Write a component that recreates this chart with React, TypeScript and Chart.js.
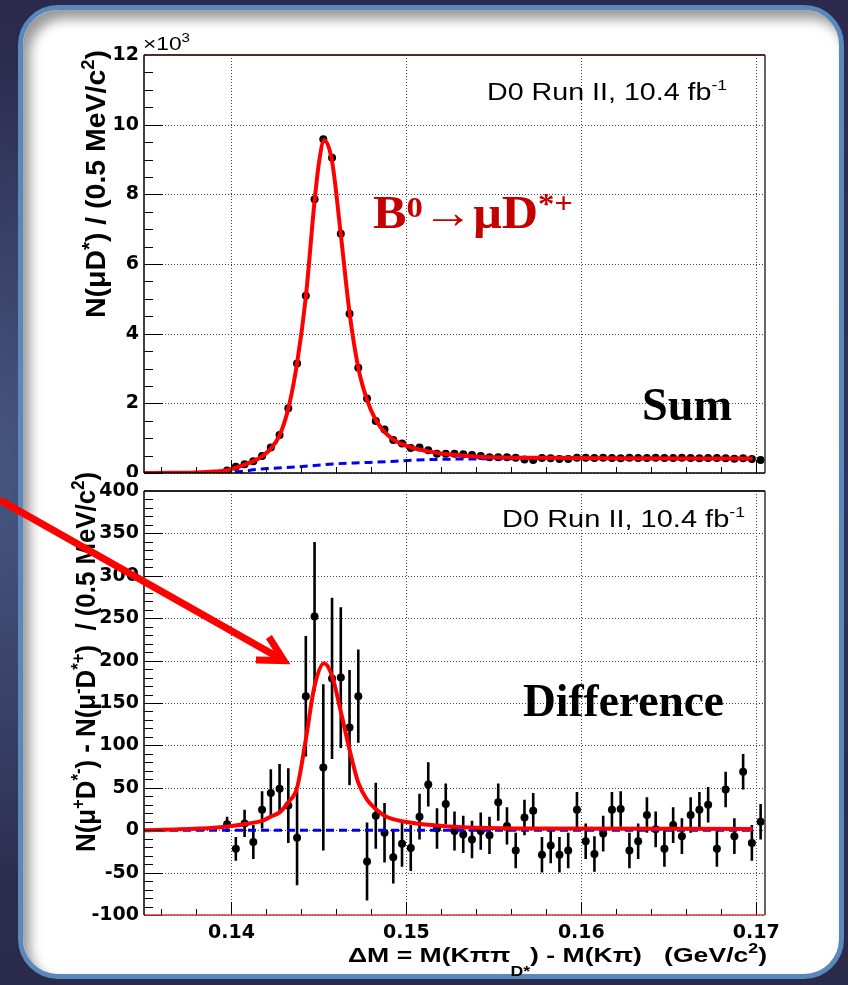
import { useEffect, useRef } from "react";
import { Chart, registerables } from "chart.js";

Chart.register(...registerables);

// ΔM bin centres in GeV/c², 0.5 MeV/c² bins
const BIN_CENTERS = [
  0.13975, 0.14025, 0.14075, 0.14125, 0.14175, 0.14225, 0.14275, 0.14325, 0.14375, 0.14425,
  0.14475, 0.14525, 0.14575, 0.14625, 0.14675, 0.14725, 0.14775, 0.14825, 0.14875, 0.14925,
  0.14975, 0.15025, 0.15075, 0.15125, 0.15175, 0.15225, 0.15275, 0.15325, 0.15375, 0.15425,
  0.15475, 0.15525, 0.15575, 0.15625, 0.15675, 0.15725, 0.15775, 0.15825, 0.15875, 0.15925,
  0.15975, 0.16025, 0.16075, 0.16125, 0.16175, 0.16225, 0.16275, 0.16325, 0.16375, 0.16425,
  0.16475, 0.16525, 0.16575, 0.16625, 0.16675, 0.16725, 0.16775, 0.16825, 0.16875, 0.16925,
  0.16975, 0.17025,
];

// Sum: N(μD*) per bin
const SUM_COUNTS = [
  70, 180, 250, 340, 490, 730, 1090, 1860, 3140, 5090,
  7860, 9580, 9050, 6870, 4570, 3020, 2140, 1490, 1250, 950,
  850, 720, 735, 650, 555, 550, 550, 540, 520, 490,
  450, 450, 450, 440, 390, 370, 430, 420, 400, 400,
  440, 440, 430, 440, 430, 420, 440, 430, 430, 440,
  430, 430, 440, 430, 420, 430, 430, 420, 410, 420,
  400, 370,
];

// Difference: N(μ+D*-) - N(μ-D*+) per bin, with its uncertainty
const DIFF_COUNTS = [
  7, -22, 8, -14, 24, 44, 49, 29, -9, 158,
  252, 74, 179, 180, 121, 158, -37, 17, -3, -32,
  -16, -21, 16, 54, 2, 31, -1, -5, -11, -1,
  -6, 33, 5, -24, 15, 23, -29, -18, -29, -24,
  24, -13, -28, -4, 24, 25, -24, -13, 18, 1,
  -22, 6, -7, 18, 24, 30, -22, 48, -7, 69,
  -15, 10,
];
const DIFF_ERRORS = [
  9, 14, 16, 20, 22, 28, 29, 44, 56, 71,
  88, 98, 95, 83, 68, 55, 46, 39, 35, 31,
  27, 27, 27, 26, 24, 24, 23, 22, 22, 22,
  22, 22, 22, 21, 21, 21, 21, 21, 21, 21,
  21, 21, 21, 21, 21, 21, 21, 21, 21, 21,
  21, 21, 21, 21, 21, 21, 21, 21, 21, 21,
  21, 21,
];

// Fitted signal + background (Sum)
const SUM_FIT_X = [
  0.135, 0.1365, 0.138, 0.139, 0.13975, 0.14025, 0.14075, 0.14125, 0.14175, 0.14225,
  0.14275, 0.14325, 0.14375, 0.14425, 0.14475, 0.145, 0.1453, 0.14575, 0.14625, 0.14675,
  0.14725, 0.14775, 0.14825, 0.14875, 0.14925, 0.14975, 0.15025, 0.15075, 0.1515, 0.1525,
  0.1535, 0.155, 0.158, 0.162, 0.1698,
];
const SUM_FIT_Y = [
  0, 5, 15, 40, 80, 150, 240, 340, 480, 700,
  1080, 1850, 3150, 5050, 7800, 8900, 9550, 8950, 6850, 4600,
  3020, 2100, 1520, 1180, 960, 830, 740, 670, 600, 530,
  490, 450, 435, 425, 415,
];
// Background component (Sum)
const SUM_BKG_X = [0.135, 0.1396, 0.1405, 0.1416, 0.1439, 0.1458, 0.1477, 0.1494, 0.1504, 0.1523, 0.156, 0.16, 0.1698];
const SUM_BKG_Y = [0, 0, 40, 110, 180, 260, 300, 340, 370, 395, 410, 412, 405];

// Fitted signal (Difference)
const DIFF_FIT_X = [
  0.135, 0.137, 0.139, 0.14, 0.141, 0.14175, 0.14225, 0.14275, 0.14325, 0.14375,
  0.14425, 0.14475, 0.1453, 0.14575, 0.14625, 0.14675, 0.14725, 0.14775, 0.14825, 0.14875,
  0.14925, 0.14975, 0.1507, 0.1524, 0.154, 0.157, 0.1698,
];
const DIFF_FIT_Y = [
  0, 1, 3, 5, 8, 11, 16, 21, 33, 50,
  107, 170, 197, 182, 140, 95, 56, 36, 25, 17,
  13, 10.5, 7.5, 4.5, 3, 2, 1.5,
];
const DIFF_BKG_X = [0.135, 0.1698];
const DIFF_BKG_Y = [0, 0];

const X_MIN = 0.135;
const X_MAX = 0.1705;
const X_TICKS = [0.14, 0.15, 0.16, 0.17];
const X_TICK_LABELS = ["0.14", "0.15", "0.16", "0.17"];
const SUM_Y_TICKS = [0, 2000, 4000, 6000, 8000, 10000, 12000];
const SUM_Y_TICK_LABELS = ["0", "2", "4", "6", "8", "10", "12"];
const DIFF_Y_TICKS = [-100, -50, 0, 50, 100, 150, 200, 250, 300, 350, 400];
const DIFF_Y_TICK_LABELS = ["-100", "-50", "0", "50", "100", "150", "200", "250", "300", "350", "400"];

// arrow pointing at the difference peak (tip in data coordinates)
const ARROW_TIP = { x: 0.143, y: 200 };

const TICK_FONT = { family: "'DejaVu Sans'", size: 19, weight: "bold" as const };
const SANS = "'Liberation Sans', Arial, sans-serif";
const SERIF = "'Liberation Serif', 'Times New Roman', serif";

type Run = { t: string; size: number; dy?: number };
type TextOpts = {
  x: number;
  y: number;
  family: string;
  weight: string;
  color: string;
  align?: "left" | "right";
  width?: number;
  rotate?: boolean;
};

function drawRuns(ctx: CanvasRenderingContext2D, runs: Run[], o: TextOpts) {
  ctx.save();
  let total = 0;
  const widths = runs.map((r) => {
    ctx.font = `${o.weight} ${r.size}px ${o.family}`;
    const w = ctx.measureText(r.t).width;
    total += w;
    return w;
  });
  const sx = o.width ? o.width / total : 1;
  ctx.translate(o.x, o.y);
  if (o.rotate) ctx.rotate(-Math.PI / 2);
  ctx.scale(sx, 1);
  ctx.fillStyle = o.color;
  ctx.textAlign = "left";
  ctx.textBaseline = "alphabetic";
  let cx = o.align === "right" ? -total : 0;
  runs.forEach((r, i) => {
    ctx.font = `${o.weight} ${r.size}px ${o.family}`;
    ctx.fillText(r.t, cx, r.dy ?? 0);
    cx += widths[i];
  });
  ctx.restore();
}

function pts(xs: number[], ys: number[]) {
  return xs.map((x, i) => ({ x, y: ys[i] }));
}

type FrameColors = { top: string; right: string; bottom: string; left: string };

function drawGrid(chart: any, yTicks: number[]) {
  const { ctx, chartArea: a, scales } = chart;
  ctx.save();
  ctx.strokeStyle = "#444";
  ctx.lineWidth = 1;
  ctx.setLineDash([1, 2]);
  ctx.beginPath();
  X_TICKS.forEach((v) => {
    const px = Math.round(scales.x.getPixelForValue(v)) + 0.5;
    ctx.moveTo(px, a.top);
    ctx.lineTo(px, a.bottom);
  });
  yTicks.forEach((v) => {
    const py = Math.round(scales.y.getPixelForValue(v)) + 0.5;
    ctx.moveTo(a.left, py);
    ctx.lineTo(a.right, py);
  });
  ctx.stroke();
  ctx.restore();
}

function drawFrame(chart: any, yMin: number, yMax: number, yStep: number, yMajorEvery: number, colors: FrameColors) {
  const { ctx, chartArea: a, scales } = chart;
  ctx.save();
  ctx.setLineDash([]);
  ctx.strokeStyle = "#000";
  ctx.lineWidth = 1;
  ctx.beginPath();
  const xStep = 0.002;
  for (let i = Math.ceil(X_MIN / xStep - 1e-6); i * xStep <= X_MAX + 1e-9; i++) {
    const px = Math.round(scales.x.getPixelForValue(i * xStep)) + 0.5;
    const len = i % 5 === 0 ? 13 : 6;
    ctx.moveTo(px, a.bottom);
    ctx.lineTo(px, a.bottom - len);
  }
  for (let j = Math.ceil(yMin / yStep - 1e-6); j * yStep <= yMax + 1e-9; j++) {
    const py = Math.round(scales.y.getPixelForValue(j * yStep)) + 0.5;
    const len = j % yMajorEvery === 0 ? 19 : 9;
    ctx.moveTo(a.left, py);
    ctx.lineTo(a.left + len, py);
  }
  ctx.stroke();

  const edge = (c: string, w: number, x1: number, y1: number, x2: number, y2: number) => {
    ctx.strokeStyle = c;
    ctx.lineWidth = w;
    ctx.beginPath();
    ctx.moveTo(x1, y1);
    ctx.lineTo(x2, y2);
    ctx.stroke();
  };
  edge(colors.top, 2, a.left, a.top, a.right, a.top);
  edge(colors.right, 1.5, a.right, a.top, a.right, a.bottom);
  edge(colors.bottom, 1.5, a.left, a.bottom, a.right, a.bottom);
  edge(colors.left, 1.5, a.left, a.top, a.left, a.bottom);
  ctx.restore();
}

function xScale(showLabels: boolean, height: number) {
  return {
    type: "linear" as const,
    min: X_MIN,
    max: X_MAX,
    afterBuildTicks: (s: any) => {
      s.ticks = X_TICKS.map((value) => ({ value }));
    },
    afterFit: (s: any) => {
      s.height = height;
    },
    grid: { display: false, drawTicks: false },
    border: { display: false },
    ticks: {
      display: showLabels,
      autoSkip: false,
      maxRotation: 0,
      padding: 7,
      color: "#000",
      font: TICK_FONT,
      callback: (_v: any, i: number) => X_TICK_LABELS[i],
    },
  };
}

function yScale(min: number, max: number, ticks: number[], labels: string[]) {
  return {
    type: "linear" as const,
    min,
    max,
    afterBuildTicks: (s: any) => {
      s.ticks = ticks.map((value) => ({ value }));
    },
    afterFit: (s: any) => {
      s.width = 144;
    },
    grid: { display: false, drawTicks: false },
    border: { display: false },
    ticks: {
      autoSkip: false,
      padding: 5,
      color: "#000",
      font: TICK_FONT,
      callback: (_v: any, i: number) => labels[i],
    },
  };
}

function curveDataset(data: any[], color: string, width: number, dash: number[], order: number) {
  return {
    data,
    borderColor: color,
    borderWidth: width,
    borderDash: dash,
    pointRadius: 0,
    fill: false,
    cubicInterpolationMode: "monotone" as const,
    order,
  };
}

function pointDataset(data: any[], order: number) {
  return {
    data,
    showLine: false,
    pointRadius: 4,
    pointBackgroundColor: "#000",
    pointBorderWidth: 0,
    order,
  };
}

export default function App() {
  const sumRef = useRef<HTMLCanvasElement>(null);
  const diffRef = useRef<HTMLCanvasElement>(null);

  useEffect(() => {
    const sumPlugin = {
      id: "sumDecor",
      beforeDatasetsDraw(chart: any) {
        drawGrid(chart, SUM_Y_TICKS);
      },
      afterDatasetsDraw(chart: any) {
        drawFrame(chart, 0, 12000, 500, 4, { top: "#5a2626", right: "#333", bottom: "#000", left: "#000" });
      },
      afterDraw(chart: any) {
        const ctx = chart.ctx as CanvasRenderingContext2D;
        drawRuns(ctx, [{ t: "×10", size: 18 }, { t: "3", size: 12, dy: -8 }], {
          x: 143, y: 50, family: SANS, weight: "normal", color: "#000", width: 47,
        });
        drawRuns(ctx, [{ t: "D0 Run II, 10.4 fb", size: 23 }, { t: "-1", size: 14, dy: -10 }], {
          x: 487, y: 100, family: SANS, weight: "normal", color: "#000", width: 240,
        });
        drawRuns(
          ctx,
          [
            { t: "B", size: 46 },
            { t: "0", size: 30, dy: -11 },
            { t: "→μD", size: 46 },
            { t: "*+", size: 30, dy: -15 },
          ],
          { x: 373, y: 228, family: SERIF, weight: "bold", color: "#c40000", width: 200 },
        );
        drawRuns(ctx, [{ t: "Sum", size: 46 }], {
          x: 642, y: 420, family: SERIF, weight: "bold", color: "#000", width: 90,
        });
        drawRuns(
          ctx,
          [
            { t: "N(μD", size: 28 },
            { t: "*", size: 20, dy: -9 },
            { t: ") / (0.5 MeV/c", size: 28 },
            { t: "2", size: 18, dy: -11 },
            { t: ")", size: 28 },
          ],
          { x: 105, y: 318, family: SANS, weight: "bold", color: "#000", width: 268, rotate: true },
        );
      },
    };

    const diffPlugin = {
      id: "diffDecor",
      beforeDatasetsDraw(chart: any) {
        drawGrid(chart, DIFF_Y_TICKS);
        const { ctx, scales } = chart;
        ctx.save();
        ctx.strokeStyle = "#000";
        ctx.lineWidth = 2.6;
        ctx.beginPath();
        BIN_CENTERS.forEach((xv, i) => {
          const px = scales.x.getPixelForValue(xv);
          ctx.moveTo(px, scales.y.getPixelForValue(DIFF_COUNTS[i] - DIFF_ERRORS[i]));
          ctx.lineTo(px, scales.y.getPixelForValue(DIFF_COUNTS[i] + DIFF_ERRORS[i]));
        });
        ctx.stroke();
        ctx.restore();
      },
      afterDatasetsDraw(chart: any) {
        drawFrame(chart, -100, 400, 10, 5, { top: "#222", right: "#333", bottom: "#d03a3a", left: "#000" });
      },
      afterDraw(chart: any) {
        const ctx = chart.ctx as CanvasRenderingContext2D;
        const { scales } = chart;
        drawRuns(ctx, [{ t: "D0 Run II, 10.4 fb", size: 23 }, { t: "-1", size: 14, dy: -10 }], {
          x: 502, y: 527, family: SANS, weight: "normal", color: "#000", width: 243,
        });
        drawRuns(ctx, [{ t: "Difference", size: 46 }], {
          x: 523, y: 716, family: SERIF, weight: "bold", color: "#000", width: 201,
        });
        drawRuns(
          ctx,
          [
            { t: "N(μ", size: 28 },
            { t: "+", size: 18, dy: -11 },
            { t: "D", size: 28 },
            { t: "*-", size: 18, dy: -11 },
            { t: ") - N(μ", size: 28 },
            { t: "-", size: 18, dy: -11 },
            { t: "D", size: 28 },
            { t: "*+", size: 18, dy: -11 },
            { t: ")  / (0.5 MeV/c", size: 28 },
            { t: "2", size: 18, dy: -11 },
            { t: ")", size: 28 },
          ],
          { x: 95, y: 852, family: SANS, weight: "bold", color: "#000", width: 380, rotate: true },
        );
        drawRuns(
          ctx,
          [
            { t: "ΔM = M(Kππ", size: 21 },
            { t: "D*", size: 14, dy: 14 },
            { t: ") - M(Kπ)   (GeV/c", size: 21 },
            { t: "2", size: 14, dy: -9 },
            { t: ")", size: 21 },
          ],
          { x: 767, y: 962, family: SANS, weight: "bold", color: "#000", width: 419, align: "right" },
        );

        // annotation arrow
        const tx = scales.x.getPixelForValue(ARROW_TIP.x);
        const ty = scales.y.getPixelForValue(ARROW_TIP.y);
        const sx0 = 0;
        const sy0 = ty - 0.565 * (tx - sx0);
        const ang = Math.atan2(ty - sy0, tx - sx0);
        ctx.save();
        ctx.strokeStyle = "#f00";
        ctx.lineWidth = 7;
        ctx.lineCap = "butt";
        ctx.lineJoin = "miter";
        ctx.beginPath();
        ctx.moveTo(sx0, sy0);
        ctx.lineTo(tx - 3 * Math.cos(ang), ty - 3 * Math.sin(ang));
        ctx.stroke();
        const barb = 28;
        const spread = (28 * Math.PI) / 180;
        ctx.beginPath();
        ctx.moveTo(tx - barb * Math.cos(ang - spread), ty - barb * Math.sin(ang - spread));
        ctx.lineTo(tx, ty);
        ctx.lineTo(tx - barb * Math.cos(ang + spread), ty - barb * Math.sin(ang + spread));
        ctx.stroke();
        ctx.restore();
      },
    };

    const common = {
      responsive: false,
      animation: false as const,
      devicePixelRatio: 1,
      events: [] as any[],
    };

    const sumChart = new Chart(sumRef.current!, {
      type: "line",
      data: {
        datasets: [
          curveDataset(pts(SUM_FIT_X, SUM_FIT_Y), "#ff0000", 4, [], 0),
          curveDataset(pts(SUM_BKG_X, SUM_BKG_Y), "#0000ee", 3, [8, 5], 1),
          pointDataset(pts(BIN_CENTERS, SUM_COUNTS), 2),
        ],
      },
      options: {
        ...common,
        layout: { padding: { left: 0, top: 55, right: 83, bottom: 0 } },
        plugins: { legend: { display: false }, tooltip: { enabled: false } },
        scales: {
          x: xScale(false, 26),
          y: yScale(0, 12000, SUM_Y_TICKS, SUM_Y_TICK_LABELS),
        },
      } as any,
      plugins: [sumPlugin],
    });

    const diffChart = new Chart(diffRef.current!, {
      type: "line",
      data: {
        datasets: [
          curveDataset(pts(DIFF_FIT_X, DIFF_FIT_Y), "#ff0000", 4, [], 0),
          curveDataset(pts(DIFF_BKG_X, DIFF_BKG_Y), "#0000ee", 3, [8, 5], 1),
          pointDataset(pts(BIN_CENTERS, DIFF_COUNTS), 2),
        ],
      },
      options: {
        ...common,
        layout: { padding: { left: 0, top: 491, right: 83, bottom: 0 } },
        plugins: { legend: { display: false }, tooltip: { enabled: false } },
        scales: {
          x: xScale(true, 70),
          y: yScale(-100, 400, DIFF_Y_TICKS, DIFF_Y_TICK_LABELS),
        },
      } as any,
      plugins: [diffPlugin],
    });

    return () => {
      sumChart.destroy();
      diffChart.destroy();
    };
  }, []);

  return (
    <div
      style={{
        position: "absolute",
        left: 0,
        top: 0,
        width: 848,
        height: 985,
        overflow: "hidden",
        background:
          "radial-gradient(ellipse 180px 420px at 0% 48%, #46567f 0%, rgba(44,44,78,0) 100%), linear-gradient(180deg, #2b2a4c 0%, #30345a 50%, #2a2a4a 100%)",
      }}
    >
      <div
        style={{
          position: "absolute",
          left: 18,
          top: 5,
          width: 826,
          height: 974,
          boxSizing: "border-box",
          border: "5px solid #5a88bb",
          borderRadius: 40,
          background: "#ffffff",
          boxShadow: "inset 7px 9px 12px rgba(0,0,0,0.4)",
        }}
      />
      <div style={{ position: "absolute", left: 0, top: 0, width: 848, height: 477, overflow: "hidden" }}>
        <canvas ref={sumRef} width={848} height={499} style={{ display: "block" }} />
      </div>
      <canvas
        ref={diffRef}
        width={848}
        height={985}
        style={{ position: "absolute", left: 0, top: 0, display: "block" }}
      />
    </div>
  );
}
